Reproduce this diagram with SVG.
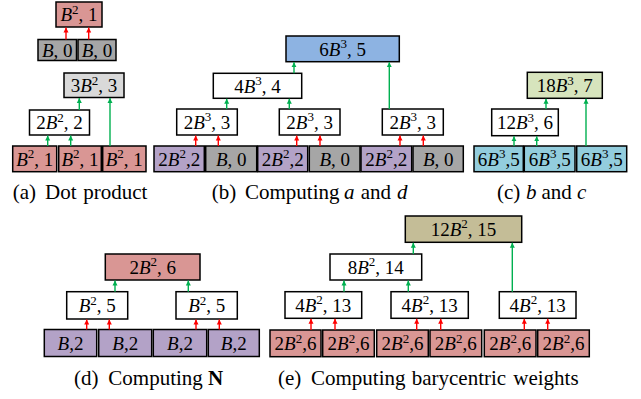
<svg xmlns="http://www.w3.org/2000/svg" width="641" height="399" viewBox="0 0 641 399" font-family="Liberation Serif, DejaVu Serif, serif">
<defs>
<style>
rect{stroke:#000;stroke-width:1.5}
.w{fill:#fff}.pk{fill:#D99694}.gr{fill:#A6A6A6}.lg{fill:#D9D9D9}.pu{fill:#B3A2C7}.bl{fill:#8DB3E2}.cy{fill:#93CDDD}.yg{fill:#D7E4BD}.kh{fill:#C4BD97}
text{font-family:'Liberation Serif','DejaVu Serif',serif;font-size:19px;fill:#000}
.cap{font-size:21px}
.t{text-anchor:middle}
.i{font-style:italic}
.b{font-weight:bold}
.s{font-size:13px}
.ar{stroke:#FF0000;stroke-width:1.4;fill:none;marker-end:url(#mr)}
.ag{stroke:#00B050;stroke-width:1.4;fill:none;marker-end:url(#mg)}
</style>
<marker id="mr" markerUnits="userSpaceOnUse" markerWidth="6" markerHeight="6" refX="5" refY="3" orient="auto"><path d="M0,0.5 L5,3 L0,5.5 z" fill="#FF0000"/></marker>
<marker id="mg" markerUnits="userSpaceOnUse" markerWidth="6" markerHeight="6" refX="5" refY="3" orient="auto"><path d="M0,0.5 L5,3 L0,5.5 z" fill="#00B050"/></marker>
</defs>

<!-- Panel (a) -->
<g id="a-top"><rect class="pk" x="56" y="2" width="46" height="25"/><text class="t" x="79" y="21"><tspan class="i">B</tspan><tspan class="s" dy="-7.5">2</tspan><tspan dy="7.5">, 1</tspan></text></g>
<g id="a-b0-1"><rect class="gr" x="38" y="39.5" width="38.5" height="21"/><text class="t" x="57.2" y="56.5"><tspan class="i">B</tspan>, 0</text></g>
<g id="a-b0-2"><rect class="gr" x="78" y="39.5" width="38" height="21"/><text class="t" x="97" y="56.5"><tspan class="i">B</tspan>, 0</text></g>
<g id="a-3b2"><rect class="lg" x="64" y="73" width="60" height="24.5"/><text class="t" x="94" y="92"><tspan>3</tspan><tspan class="i">B</tspan><tspan class="s" dy="-7.5">2</tspan><tspan dy="7.5">, 3</tspan></text></g>
<g id="a-2b2"><rect class="w" x="29.5" y="110" width="60" height="25"/><text class="t" x="59.5" y="129"><tspan>2</tspan><tspan class="i">B</tspan><tspan class="s" dy="-7.5">2</tspan><tspan dy="7.5">, 2</tspan></text></g>
<g id="a-l1"><rect class="pk" x="12.7" y="146" width="44" height="25.7"/><text class="t" x="34.7" y="165.5"><tspan class="i">B</tspan><tspan class="s" dy="-7.5">2</tspan><tspan dy="7.5">, 1</tspan></text></g>
<g id="a-l2"><rect class="pk" x="58.7" y="146" width="42.6" height="25.7"/><text class="t" x="80" y="165.5"><tspan class="i">B</tspan><tspan class="s" dy="-7.5">2</tspan><tspan dy="7.5">, 1</tspan></text></g>
<g id="a-l3"><rect class="pk" x="102.7" y="146" width="43.3" height="25.7"/><text class="t" x="124.3" y="165.5"><tspan class="i">B</tspan><tspan class="s" dy="-7.5">2</tspan><tspan dy="7.5">, 1</tspan></text></g>

<!-- Panel (b) -->
<g id="b-top"><rect class="bl" x="286" y="36" width="113.3" height="25.7"/><text class="t" x="342.6" y="55.5"><tspan>6</tspan><tspan class="i">B</tspan><tspan class="s" dy="-7.5">3</tspan><tspan dy="7.5">, 5</tspan></text></g>
<g id="b-4b3"><rect class="w" x="213.3" y="73.3" width="88.4" height="25"/><text class="t" x="257.5" y="92.5"><tspan>4</tspan><tspan class="i">B</tspan><tspan class="s" dy="-7.5">3</tspan><tspan dy="7.5">, 4</tspan></text></g>
<g id="b-2b3-1"><rect class="w" x="176.7" y="109" width="60.6" height="26"/><text class="t" x="207" y="128.5"><tspan>2</tspan><tspan class="i">B</tspan><tspan class="s" dy="-7.5">3</tspan><tspan dy="7.5">, 3</tspan></text></g>
<g id="b-2b3-2"><rect class="w" x="279.3" y="109" width="60.7" height="26"/><text class="t" x="309.6" y="128.5"><tspan>2</tspan><tspan class="i">B</tspan><tspan class="s" dy="-7.5">3</tspan><tspan dy="7.5">, 3</tspan></text></g>
<g id="b-2b3-3"><rect class="w" x="382.3" y="109" width="61" height="26"/><text class="t" x="412.8" y="128.5"><tspan>2</tspan><tspan class="i">B</tspan><tspan class="s" dy="-7.5">3</tspan><tspan dy="7.5">, 3</tspan></text></g>
<g id="b-l1"><rect class="pu" x="154" y="146" width="50.3" height="25.7"/><text class="t" x="179.2" y="165.5"><tspan>2</tspan><tspan class="i">B</tspan><tspan class="s" dy="-7.5">2</tspan><tspan dy="7.5">,2</tspan></text></g>
<g id="b-l2"><rect class="gr" x="205.7" y="146" width="51" height="25.7"/><text class="t" x="231.2" y="165.5"><tspan class="i">B</tspan>, 0</text></g>
<g id="b-l3"><rect class="pu" x="257.7" y="146" width="50" height="25.7"/><text class="t" x="282.7" y="165.5"><tspan>2</tspan><tspan class="i">B</tspan><tspan class="s" dy="-7.5">2</tspan><tspan dy="7.5">,2</tspan></text></g>
<g id="b-l4"><rect class="gr" x="309.3" y="146" width="50.7" height="25.7"/><text class="t" x="334.7" y="165.5"><tspan class="i">B</tspan>, 0</text></g>
<g id="b-l5"><rect class="pu" x="361" y="146" width="50.7" height="25.7"/><text class="t" x="386.3" y="165.5"><tspan>2</tspan><tspan class="i">B</tspan><tspan class="s" dy="-7.5">2</tspan><tspan dy="7.5">,2</tspan></text></g>
<g id="b-l6"><rect class="gr" x="413" y="146" width="50.3" height="25.7"/><text class="t" x="438.2" y="165.5"><tspan class="i">B</tspan>, 0</text></g>

<!-- Panel (c) -->
<g id="c-top"><rect class="yg" x="527.3" y="72.3" width="75" height="26"/><text class="t" x="564.8" y="92"><tspan>18</tspan><tspan class="i">B</tspan><tspan class="s" dy="-7.5">3</tspan><tspan dy="7.5">, 7</tspan></text></g>
<g id="c-12b3"><rect class="w" x="491.7" y="109" width="66.6" height="26.7"/><text class="t" x="525" y="129"><tspan>12</tspan><tspan class="i">B</tspan><tspan class="s" dy="-7.5">3</tspan><tspan dy="7.5">, 6</tspan></text></g>
<g id="c-l1"><rect class="cy" x="474" y="146" width="49.3" height="25.7"/><text class="t" x="498.7" y="165.5"><tspan>6</tspan><tspan class="i">B</tspan><tspan class="s" dy="-7.5">3</tspan><tspan dy="7.5">,5</tspan></text></g>
<g id="c-l2"><rect class="cy" x="524.3" y="146" width="50.7" height="25.7"/><text class="t" x="549.7" y="165.5"><tspan>6</tspan><tspan class="i">B</tspan><tspan class="s" dy="-7.5">3</tspan><tspan dy="7.5">,5</tspan></text></g>
<g id="c-l3"><rect class="cy" x="576.7" y="146" width="50" height="25.7"/><text class="t" x="601.7" y="165.5"><tspan>6</tspan><tspan class="i">B</tspan><tspan class="s" dy="-7.5">3</tspan><tspan dy="7.5">,5</tspan></text></g>

<!-- Panel (d) -->
<g id="d-top"><rect class="pk" x="105.3" y="254" width="94.7" height="26"/><text class="t" x="152.7" y="273.5"><tspan>2</tspan><tspan class="i">B</tspan><tspan class="s" dy="-7.5">2</tspan><tspan dy="7.5">, 6</tspan></text></g>
<g id="d-b2-1"><rect class="w" x="66.7" y="291.7" width="61" height="27.3"/><text class="t" x="97.2" y="312"><tspan class="i">B</tspan><tspan class="s" dy="-7.5">2</tspan><tspan dy="7.5">, 5</tspan></text></g>
<g id="d-b2-2"><rect class="w" x="176" y="291.7" width="61.3" height="27.3"/><text class="t" x="206.7" y="312"><tspan class="i">B</tspan><tspan class="s" dy="-7.5">2</tspan><tspan dy="7.5">, 5</tspan></text></g>
<g id="d-l1"><rect class="pu" x="44.3" y="329.5" width="52.4" height="27"/><text class="t" x="70.5" y="349.5"><tspan class="i">B</tspan>,2</text></g>
<g id="d-l2"><rect class="pu" x="98.7" y="329.5" width="53" height="27"/><text class="t" x="125.2" y="349.5"><tspan class="i">B</tspan>,2</text></g>
<g id="d-l3"><rect class="pu" x="153.3" y="329.5" width="53.4" height="27"/><text class="t" x="180" y="349.5"><tspan class="i">B</tspan>,2</text></g>
<g id="d-l4"><rect class="pu" x="208.3" y="329.5" width="51" height="27"/><text class="t" x="233.8" y="349.5"><tspan class="i">B</tspan>,2</text></g>

<!-- Panel (e) -->
<g id="e-top"><rect class="kh" x="405.3" y="216" width="116.4" height="26.3"/><text class="t" x="463.5" y="235.8"><tspan>12</tspan><tspan class="i">B</tspan><tspan class="s" dy="-7.5">2</tspan><tspan dy="7.5">, 15</tspan></text></g>
<g id="e-8b2"><rect class="w" x="330" y="254" width="91.7" height="26"/><text class="t" x="375.8" y="273.5"><tspan>8</tspan><tspan class="i">B</tspan><tspan class="s" dy="-7.5">2</tspan><tspan dy="7.5">, 14</tspan></text></g>
<g id="e-4b2-1"><rect class="w" x="285" y="291.7" width="76.7" height="26.6"/><text class="t" x="323.3" y="311.6"><tspan>4</tspan><tspan class="i">B</tspan><tspan class="s" dy="-7.5">2</tspan><tspan dy="7.5">, 13</tspan></text></g>
<g id="e-4b2-2"><rect class="w" x="391" y="291.7" width="77.3" height="26.6"/><text class="t" x="429.6" y="311.6"><tspan>4</tspan><tspan class="i">B</tspan><tspan class="s" dy="-7.5">2</tspan><tspan dy="7.5">, 13</tspan></text></g>
<g id="e-4b2-3"><rect class="w" x="499.3" y="291.7" width="76.7" height="26.6"/><text class="t" x="537.6" y="311.6"><tspan>4</tspan><tspan class="i">B</tspan><tspan class="s" dy="-7.5">2</tspan><tspan dy="7.5">, 13</tspan></text></g>
<g id="e-l1"><rect class="pk" x="270" y="330" width="51" height="26.7"/><text class="t" x="295.5" y="350"><tspan>2</tspan><tspan class="i">B</tspan><tspan class="s" dy="-7.5">2</tspan><tspan dy="7.5">,6</tspan></text></g>
<g id="e-l2"><rect class="pk" x="322.7" y="330" width="51.6" height="26.7"/><text class="t" x="348.5" y="350"><tspan>2</tspan><tspan class="i">B</tspan><tspan class="s" dy="-7.5">2</tspan><tspan dy="7.5">,6</tspan></text></g>
<g id="e-l3"><rect class="pk" x="376.7" y="330" width="51.6" height="26.7"/><text class="t" x="402.5" y="350"><tspan>2</tspan><tspan class="i">B</tspan><tspan class="s" dy="-7.5">2</tspan><tspan dy="7.5">,6</tspan></text></g>
<g id="e-l4"><rect class="pk" x="430" y="330" width="51.7" height="26.7"/><text class="t" x="455.8" y="350"><tspan>2</tspan><tspan class="i">B</tspan><tspan class="s" dy="-7.5">2</tspan><tspan dy="7.5">,6</tspan></text></g>
<g id="e-l5"><rect class="pk" x="484.3" y="330" width="51.7" height="26.7"/><text class="t" x="510.2" y="350"><tspan>2</tspan><tspan class="i">B</tspan><tspan class="s" dy="-7.5">2</tspan><tspan dy="7.5">,6</tspan></text></g>
<g id="e-l6"><rect class="pk" x="537.7" y="330" width="51.6" height="26.7"/><text class="t" x="563.5" y="350"><tspan>2</tspan><tspan class="i">B</tspan><tspan class="s" dy="-7.5">2</tspan><tspan dy="7.5">,6</tspan></text></g>

<!-- Connectors -->
<g id="connectors">
<line class="ar" x1="66" y1="39.5" x2="66" y2="27.5"/>
<line class="ar" x1="88.7" y1="39.5" x2="88.7" y2="27.5"/>
<line class="ag" x1="47.7" y1="146" x2="47.7" y2="135.5"/>
<line class="ag" x1="70.7" y1="146" x2="70.7" y2="135.5"/>
<line class="ag" x1="79.3" y1="110" x2="79.3" y2="98"/>
<line class="ag" x1="110" y1="146" x2="110" y2="98"/>

<line class="ar" x1="195.7" y1="146" x2="195.7" y2="135.5"/>
<line class="ar" x1="218.3" y1="146" x2="218.3" y2="135.5"/>
<line class="ar" x1="296.7" y1="146" x2="296.7" y2="135.5"/>
<line class="ar" x1="320" y1="146" x2="320" y2="135.5"/>
<line class="ar" x1="400" y1="146" x2="400" y2="135.5"/>
<line class="ar" x1="423.3" y1="146" x2="423.3" y2="135.5"/>
<line class="ag" x1="226.7" y1="109" x2="226.7" y2="98.8"/>
<line class="ag" x1="289.3" y1="109" x2="289.3" y2="98.8"/>
<line class="ag" x1="294" y1="73.3" x2="294" y2="62.2"/>
<line class="ag" x1="389.3" y1="109" x2="389.3" y2="62.2"/>

<line class="ag" x1="514" y1="146" x2="514" y2="136.2"/>
<line class="ag" x1="536.7" y1="146" x2="536.7" y2="136.2"/>
<line class="ag" x1="546" y1="109" x2="546" y2="98.8"/>
<line class="ag" x1="586" y1="146" x2="586" y2="98.8"/>

<line class="ar" x1="86.7" y1="329.5" x2="86.7" y2="319.5"/>
<line class="ar" x1="109.3" y1="329.5" x2="109.3" y2="319.5"/>
<line class="ar" x1="196" y1="329.5" x2="196" y2="319.5"/>
<line class="ar" x1="219.3" y1="329.5" x2="219.3" y2="319.5"/>
<line class="ag" x1="115" y1="291.7" x2="115" y2="280.5"/>
<line class="ag" x1="188.3" y1="291.7" x2="188.3" y2="280.5"/>

<line class="ar" x1="311" y1="330" x2="311" y2="318.8"/>
<line class="ar" x1="335" y1="330" x2="335" y2="318.8"/>
<line class="ar" x1="416.7" y1="330" x2="416.7" y2="318.8"/>
<line class="ar" x1="440.7" y1="330" x2="440.7" y2="318.8"/>
<line class="ar" x1="524.3" y1="330" x2="524.3" y2="318.8"/>
<line class="ar" x1="547.7" y1="330" x2="547.7" y2="318.8"/>
<line class="ag" x1="344" y1="291.7" x2="344" y2="280.5"/>
<line class="ag" x1="408.3" y1="291.7" x2="408.3" y2="280.5"/>
<line class="ag" x1="413.3" y1="254" x2="413.3" y2="242.8"/>
<line class="ag" x1="512.3" y1="291.7" x2="512.3" y2="242.8"/>
</g>

<!-- Captions -->
<text class="cap" y="199.3"><tspan x="12.7">(a)</tspan><tspan x="45">Dot</tspan><tspan x="83.3">product</tspan></text>
<text class="cap" y="199.3"><tspan x="211.7">(b)</tspan><tspan x="245">Computing</tspan><tspan x="344" class="i">a</tspan><tspan x="360.8">and</tspan><tspan x="397" class="i">d</tspan></text>
<text class="cap" y="199.3"><tspan x="497">(c)</tspan><tspan x="526" class="i">b</tspan><tspan x="541.5">and</tspan><tspan x="577" class="i">c</tspan></text>
<text class="cap" y="385"><tspan x="74">(d)</tspan><tspan x="108.3">Computing</tspan><tspan x="207.9" class="b">N</tspan></text>
<text class="cap" y="385"><tspan x="278">(e)</tspan><tspan x="311">Computing</tspan><tspan x="411.7">barycentric</tspan><tspan x="513.3">weights</tspan></text>
</svg>
